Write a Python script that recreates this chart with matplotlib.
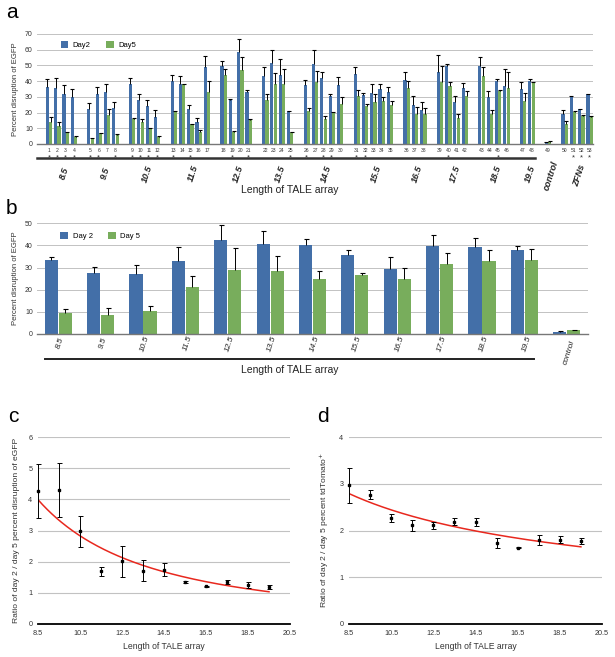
import numpy as np
import matplotlib
matplotlib.use("Agg")
import matplotlib.pyplot as plt

plt.rcParams['font.family'] = ['Liberation Sans', 'DejaVu Sans']

# ---------------- Panel a data ----------------
a_groups = ["8.5", "9.5", "10.5", "11.5", "12.5", "13.5", "14.5", "15.5",
            "16.5", "17.5", "18.5", "19.5", "control", "ZFNs"]
a_group_sizes = [4, 4, 4, 5, 4, 4, 5, 5, 3, 4, 4, 2, 1, 4]
a_day2 = [36.3, 35.7, 31.8, 29.7, 22.3, 32.0, 33.3, 23.0, 38.4, 28.2, 24.4, 17.0,
          40.0, 38.4, 22.3, 13.8, 49.2, 49.6, 28.2, 58.3, 32.9, 43.3, 51.8, 43.9,
          21.0, 37.5, 50.7, 41.8, 30.5, 37.5, 44.5, 31.2, 32.2, 35.0, 32.9, 40.7,
          24.8, 21.6, 46.0, 49.4, 26.9, 35.8, 49.9, 30.1, 40.3, 37.1, 35.0, 40.1,
          1.0, 18.9, 30.5, 22.0, 31.8]
a_day2_err = [5.1, 6.5, 5.6, 5.3, 3.7, 4.0, 5.1, 3.8, 3.4, 3.6, 3.4, 4.4,
              4.2, 5.1, 2.3, 3.0, 7.0, 3.0, 0.3, 8.7, 1.7, 5.5, 7.8, 10.4,
              0.3, 3.2, 8.9, 4.0, 1.5, 4.9, 4.5, 1.5, 5.8, 3.0, 3.6, 4.9,
              5.7, 4.9, 10.6, 1.5, 3.6, 3.0, 5.7, 3.6, 0.9, 10.4, 4.5, 1.1,
              0.3, 2.7, 0.2, 0.3, 0.3]
a_day5 = [13.8, 11.3, 7.4, 4.5, 3.8, 7.0, 18.7, 6.0, 16.0, 13.8, 10.2, 4.5,
          20.8, 38.2, 12.7, 7.4, 33.3, 43.9, 7.8, 47.1, 15.5, 28.0, 38.2, 38.0,
          7.6, 21.0, 39.2, 15.9, 20.2, 25.7, 30.5, 24.2, 26.5, 27.6, 24.8, 35.6,
          18.9, 18.9, 39.7, 37.1, 16.3, 30.8, 43.5, 18.9, 33.7, 35.4, 27.4, 39.2,
          1.5, 12.7, 20.6, 18.0, 17.4]
a_day5_err = [3.2, 2.5, 0.3, 0.3, 0.3, 0.3, 3.6, 0.3, 0.3, 2.2, 0.3, 0.3,
              0.3, 0.3, 0.3, 1.3, 6.8, 4.0, 0.3, 8.5, 0.6, 4.0, 7.2, 9.5,
              0.3, 1.7, 7.5, 1.7, 0.4, 4.2, 4.1, 1.0, 5.1, 2.3, 2.6, 4.5,
              4.6, 3.8, 9.9, 2.6, 3.0, 3.1, 5.5, 2.7, 0.5, 10.2, 5.1, 0.5,
              0.2, 2.1, 0.2, 0.5, 0.4]
a_star = [1, 2, 3, 4, 5, 6, 8, 9, 10, 11, 12, 13, 15, 19, 21, 25, 26, 28, 29,
          31, 32, 40, 45, 51, 52, 53]

# ---------------- Panel b data ----------------
b_labels = ["8.5", "9.5", "10.5", "11.5", "12.5", "13.5", "14.5", "15.5",
            "16.5", "17.5", "18.5", "19.5", "control"]
b_day2 = [33.4, 27.7, 27.0, 33.0, 42.5, 40.5, 40.1, 35.5, 29.4, 39.9, 39.3, 37.8, 1.0]
b_day2_err = [1.5, 2.7, 4.2, 6.2, 6.7, 6.0, 2.8, 2.3, 5.5, 4.8, 3.9, 2.1, 0.2]
b_day5 = [9.3, 8.6, 10.4, 21.4, 28.9, 28.5, 24.7, 26.5, 24.7, 31.6, 33.0, 33.3, 1.7]
b_day5_err = [1.8, 3.0, 2.3, 5.0, 9.8, 6.9, 3.8, 1.2, 5.3, 5.1, 4.8, 5.3, 0.0]

# ---------------- Panel c / d data ----------------
cd_length = [8.5, 9.5, 10.5, 11.5, 12.5, 13.5, 14.5, 15.5, 16.5, 17.5, 18.5, 19.5]
c_ratio = [4.28, 4.31, 2.97, 1.69, 2.01, 1.71, 1.74, 1.34, 1.21, 1.34, 1.26, 1.19]
c_err_lo = [0.88, 0.88, 0.50, 0.14, 0.51, 0.34, 0.19, 0.03, 0.02, 0.07, 0.09, 0.07]
c_err_hi = [0.86, 0.86, 0.51, 0.13, 0.48, 0.33, 0.22, 0.03, 0.02, 0.08, 0.08, 0.07]
d_ratio = [2.97, 2.77, 2.27, 2.11, 2.12, 2.19, 2.18, 1.73, 1.63, 1.80, 1.80, 1.77]
d_err_lo = [0.39, 0.10, 0.08, 0.13, 0.09, 0.08, 0.08, 0.10, 0.01, 0.10, 0.07, 0.06]
d_err_hi = [0.37, 0.10, 0.09, 0.11, 0.07, 0.07, 0.08, 0.10, 0.01, 0.10, 0.09, 0.07]

BLUE = "#436FA8"
GREEN = "#78AD5C"
GRID = "#C2C2C2"
TXT = "#333333"

fig = plt.figure(figsize=(6.15, 6.57), dpi=100)
W, H = 615.0, 657.0


def axes_px(left, top, right, bottom):
    return fig.add_axes([left / W, 1 - bottom / H, (right - left) / W, (bottom - top) / H])


def upper_err(ax, x, y, e, capsize):
    cont = ax.errorbar(x, y, yerr=[np.zeros(len(e)), e], fmt='none', ecolor='black',
                       elinewidth=0.7, capsize=capsize, capthick=0.8, zorder=3)
    cont[1][0].set_visible(False)


# ================= Panel a =================
axa = axes_px(37, 34, 593, 144)
pos = []
grp_center = []
k = 0
for gi, n in enumerate(a_group_sizes):
    p = [k + j + gi for j in range(n)]
    pos.extend(p)
    grp_center.append(np.mean(p))
    k += n
pos = np.array(pos, dtype=float)
bw = 0.38
axa.bar(pos - 0.2, a_day2, bw, color=BLUE, label="Day2", zorder=2)
axa.bar(pos + 0.2, a_day5, bw, color=GREEN, label="Day5", zorder=2)
upper_err(axa, pos - 0.2, a_day2, a_day2_err, 1.3)
upper_err(axa, pos + 0.2, a_day5, a_day5_err, 1.3)
axa.set_xlim(-1.44, 65.4)
axa.set_ylim(0, 70)
axa.set_yticks(range(0, 71, 10))
axa.yaxis.grid(True, color=GRID, lw=0.7)
axa.set_axisbelow(True)
for s in ["top", "right", "left"]:
    axa.spines[s].set_visible(False)
axa.spines["bottom"].set_color("#777777")
axa.spines["bottom"].set_linewidth(1.0)
axa.tick_params(axis='both', length=0, labelsize=5, colors=TXT, pad=3)
axa.set_xticks([])
axa.set_ylabel("Percent disruption of EGFP", fontsize=5.5, color=TXT, labelpad=4)
tr = axa.get_xaxis_transform()
for i, p in enumerate(pos):
    axa.text(p, -0.035, str(i + 1), transform=tr, ha='center', va='top', fontsize=3.6, color=TXT)
    if (i + 1) in a_star:
        axa.text(p, -0.095, "*", transform=tr, ha='center', va='top', fontsize=5.5, color=TXT)
axa.plot([-1.44, 58.4], [-0.127, -0.127], transform=tr, color="#333333", lw=1.8, clip_on=False)
for gi, g in enumerate(a_groups):
    yy = -0.27 if gi < 12 else -0.29
    axa.text(grp_center[gi] + 0.3, yy, g, transform=tr, ha='center', va='center', rotation=72,
             fontsize=6.5, fontweight='bold', fontstyle='italic', color="#222222")
axa.text(0.455, -0.42, "Length of TALE array", transform=axa.transAxes, ha='center', va='center',
         fontsize=7.5, color="#222222")
axa.legend(loc='upper left', bbox_to_anchor=(0.03, 1.0), ncol=2, frameon=False, fontsize=5.5,
           handlelength=1.0, handleheight=1.0, columnspacing=2.0, handletextpad=0.6)
fig.text(6 / W, 1 - 12 / H, "a", fontsize=15, va='center', ha='left')

# ================= Panel b =================
axb = axes_px(37, 223.3, 588, 334)
xb = np.arange(len(b_labels), dtype=float)
bwb = 0.31
axb.bar(xb - 0.165, b_day2, bwb, color=BLUE, label="Day 2", zorder=2)
axb.bar(xb + 0.165, b_day5, bwb, color=GREEN, label="Day 5", zorder=2)
upper_err(axb, xb - 0.165, b_day2, b_day2_err, 1.8)
upper_err(axb, xb + 0.165, b_day5, b_day5_err, 1.8)
axb.set_xlim(-0.5, 12.5)
axb.set_ylim(0, 50)
axb.set_yticks(range(0, 51, 10))
axb.yaxis.grid(True, color=GRID, lw=0.7)
axb.set_axisbelow(True)
for s in ["top", "right", "left"]:
    axb.spines[s].set_visible(False)
axb.spines["bottom"].set_color("#777777")
axb.spines["bottom"].set_linewidth(1.0)
axb.tick_params(axis='both', length=0, labelsize=5, colors=TXT, pad=3)
axb.set_xticks([])
axb.set_ylabel("Percent disruption of EGFP", fontsize=5.5, color=TXT, labelpad=4)
trb = axb.get_xaxis_transform()
for i, lab in enumerate(b_labels):
    yy = -0.085 if i < 12 else -0.165
    axb.text(xb[i] + 0.05, yy, lab, transform=trb, ha='center', va='center', rotation=72,
             fontsize=6, fontstyle='italic', color="#222222")
axb.plot([-0.3, 11.23], [-0.226, -0.226], transform=trb, color="#222222", lw=1.4, clip_on=False)
axb.text(0.458, -0.325, "Length of TALE array", transform=axb.transAxes, ha='center', va='center',
         fontsize=7.5, color="#222222")
axb.legend(loc='upper left', bbox_to_anchor=(0.03, 0.98), ncol=2, frameon=False, fontsize=5.5,
           handlelength=1.0, handleheight=1.0, columnspacing=2.0, handletextpad=0.6)
fig.text(6 / W, 1 - 208 / H, "b", fontsize=15, va='center', ha='left')


# ================= Panel c / d =================
def ratio_panel(ax, y, lo, hi, ymax, ylabel):
    x = np.array(cd_length)
    yv = np.array(y)
    cont = ax.errorbar(x, yv, yerr=[lo, hi], fmt='s', color='black', ms=1.9, elinewidth=0.7,
                       capsize=1.8, capthick=0.7, zorder=3)
    for art in [cont[0], *cont[1], *cont[2]]:
        art.set_clip_on(False)
    # power trendline fitted to the data (as a spreadsheet trendline)
    b, ln_a = np.polyfit(np.log(x), np.log(yv), 1)
    xf = np.linspace(x.min(), x.max(), 200)
    ax.plot(xf, np.exp(ln_a) * xf ** b, color='#E8281E', lw=1.1, zorder=2)
    ax.set_xlim(8.5, 20.5)
    ax.set_ylim(0, ymax)
    ax.set_xticks(np.arange(8.5, 20.6, 2))
    ax.set_yticks(range(0, ymax + 1))
    ax.yaxis.grid(True, color=GRID, lw=0.8)
    ax.set_axisbelow(True)
    for s in ["top", "right", "left"]:
        ax.spines[s].set_visible(False)
    ax.spines["bottom"].set_color("black")
    ax.spines["bottom"].set_linewidth(1.3)
    ax.tick_params(axis='both', length=0, labelsize=5.2, colors=TXT, pad=4)
    ax.set_ylabel(ylabel, fontsize=6.1, color=TXT, labelpad=6)
    ax.set_xlabel("Length of TALE array", fontsize=6.2, color=TXT, labelpad=4)


axc = axes_px(38, 437, 290, 624)
ratio_panel(axc, c_ratio, c_err_lo, c_err_hi, 6,
            "Ratio of day 2 / day 5 percent disruption of eGFP")
fig.text(8 / W, 1 - 417 / H, "c", fontsize=15, va='center', ha='left')

axd = axes_px(349, 437, 602, 624)
ratio_panel(axd, d_ratio, d_err_lo, d_err_hi, 4,
            "Ratio of day 2 / day 5 percent tdTomato$^{+}$")
fig.text(317 / W, 1 - 417 / H, "d", fontsize=15, va='center', ha='left')

fig.savefig("out.png", dpi=100)
